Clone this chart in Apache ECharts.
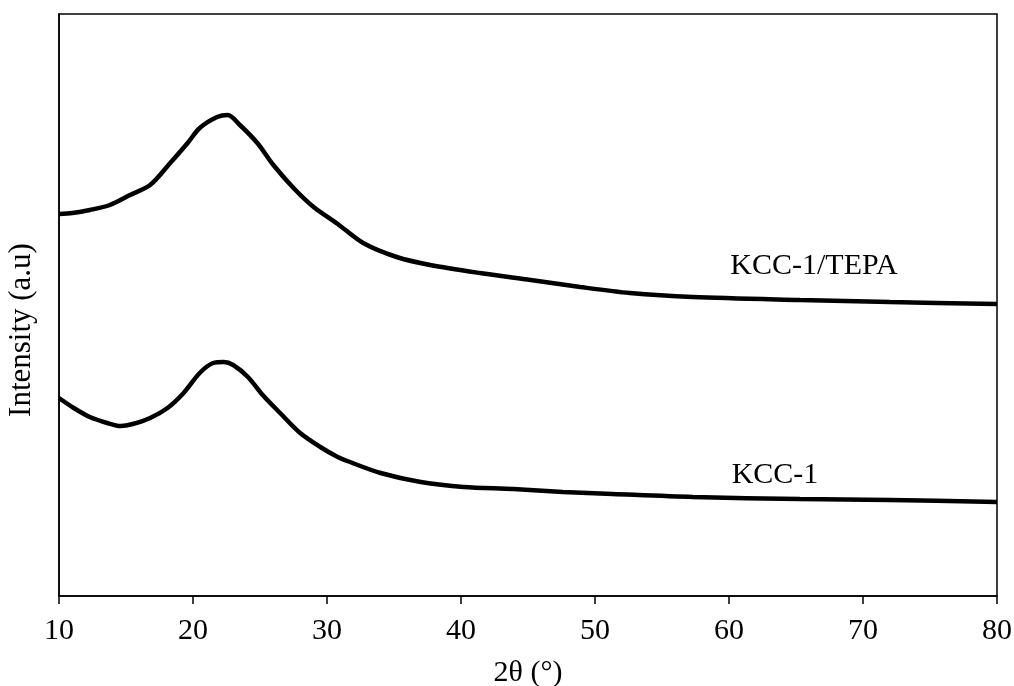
<!DOCTYPE html>
<html>
<head>
<meta charset="utf-8">
<script src="https://cdn.jsdelivr.net/npm/echarts@6/dist/echarts.min.js"></script>
<style>html,body{margin:0;padding:0;background:#fff}#c{width:1014px;height:686px}</style>
</head>
<body>
<div id="c"></div>
<script>
// 2θ positions and intensities (arbitrary units)
const tepaX = [10.0, 11.0, 12.3, 13.8, 15.3, 16.8, 18.3, 19.6, 20.5, 21.8, 22.6, 23.5, 24.8, 26.0, 27.5, 29.0, 30.8, 32.7, 35.2, 37.7, 41.4, 45.2, 48.9, 52.6, 57.3, 65.3, 72.0, 80.0];
const tepaY = [382, 383, 386, 391, 401, 411, 433, 453, 468, 479, 481, 471, 453, 431, 408, 389, 372, 353, 339, 331, 323, 316, 309, 303, 299, 296, 294, 292];
const kccX = [10.0, 11.1, 12.3, 13.6, 14.6, 15.5, 16.8, 18.1, 19.3, 20.5, 21.5, 22.3, 23.0, 24.1, 25.2, 26.5, 28.0, 29.5, 30.8, 31.5, 34.0, 37.0, 40.2, 43.9, 47.6, 51.3, 57.3, 65.3, 72.0, 80.0];
const kccY = [198, 188, 179, 173, 170, 172, 178, 188, 203, 223, 233, 234, 231, 219, 201, 183, 163, 149, 139, 135, 123, 114, 109, 107, 104, 102, 99, 97, 96, 94];
const xTicks = [10, 20, 30, 40, 50, 60, 70, 80];
const seriesNames = ['KCC-1/TEPA', 'KCC-1'];
const labelPos = [[60.1, 330], [60.2, 121]];

const font = 'Liberation Serif, Times New Roman, serif';
const pair = (xs, ys) => xs.map((x, i) => [x, ys[i]]);

const chart = echarts.init(document.getElementById('c'), null, {renderer: 'canvas'});
const mkSeries = (name, data, lp) => ({
  name, type: 'line', data, showSymbol: false, smooth: 0.3,
  lineStyle: {color: '#000', width: 4.5}, itemStyle: {color: '#000'},
  markPoint: {
    symbol: 'circle', symbolSize: 0, silent: true,
    data: [{coord: lp, value: name}],
    label: {show: true, position: 'right', distance: 0, formatter: name,
            color: '#000', fontFamily: font, fontSize: 30}
  }
});
chart.setOption({
  animation: false,
  backgroundColor: '#fff',
  grid: {left: 59, right: 17, top: 14, bottom: 90, containLabel: false, outerBoundsMode: 'none',
         show: true, borderColor: '#000', borderWidth: 1.5},
  xAxis: {
    type: 'value', min: 10, max: 80, interval: 10,
    name: '2θ (°)', nameLocation: 'middle', nameGap: 62,
    nameTextStyle: {color: '#000', fontFamily: font, fontSize: 30},
    axisLine: {lineStyle: {color: '#000', width: 1.5}},
    axisTick: {show: true, inside: false, length: 8, lineStyle: {color: '#000', width: 1.5}},
    axisLabel: {color: '#000', fontFamily: font, fontSize: 30, margin: 20,
                formatter: v => xTicks.includes(v) ? String(v) : ''},
    splitLine: {show: false}
  },
  yAxis: {
    type: 'value', min: 0, max: 582,
    name: 'Intensity (a.u)', nameLocation: 'middle', nameGap: 22,
    nameTextStyle: {color: '#000', fontFamily: font, fontSize: 31, padding: [0, 50, 0, 0]},
    axisLine: {show: true, lineStyle: {color: '#000', width: 1.5}},
    axisTick: {show: false}, axisLabel: {show: false}, splitLine: {show: false}
  },
  series: [
    mkSeries(seriesNames[0], pair(tepaX, tepaY), labelPos[0]),
    mkSeries(seriesNames[1], pair(kccX, kccY), labelPos[1])
  ]
});
</script>
</body>
</html>
